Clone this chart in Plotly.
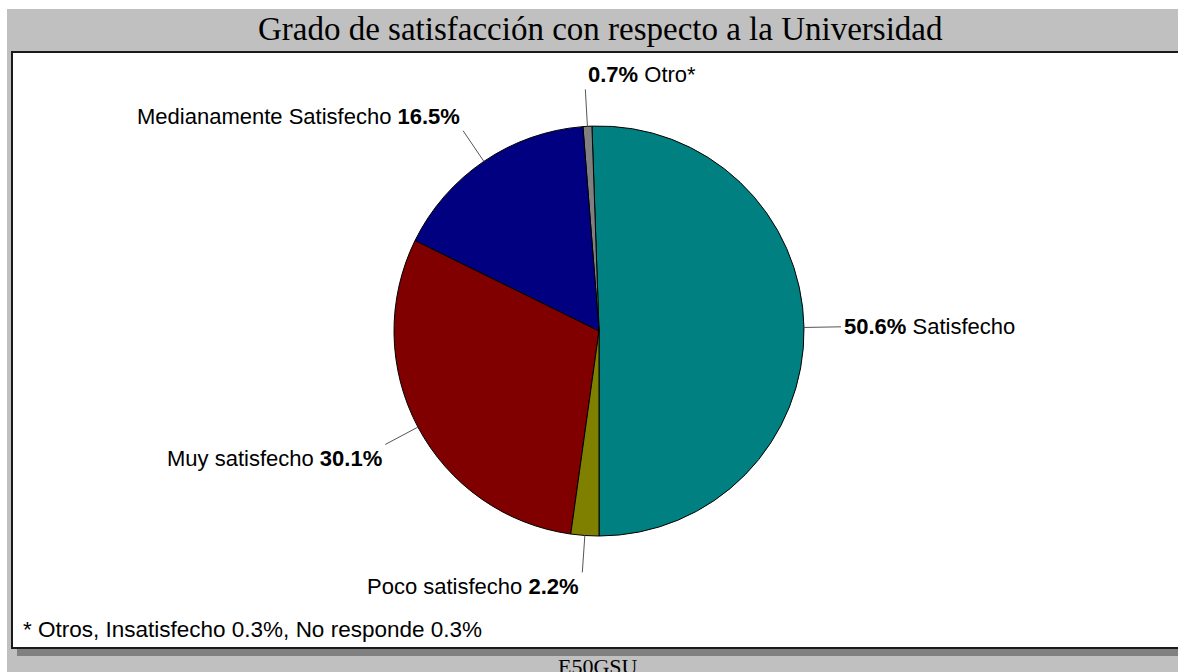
import math
import plotly.graph_objects as go

# ---- data ----
categories = ["Satisfecho", "Otro*", "Medianamente Satisfecho", "Muy satisfecho", "Poco satisfecho"]
values = [50.6, 0.7, 16.5, 30.1, 2.2]
colors = ["#008080", "#808080", "#000080", "#800000", "#808000"]
title_text = "Grado de satisfacción con respecto a la Universidad"
footnote_text = "* Otros, Insatisfecho 0.3%, No responde 0.3%"
code_text = "E50GSU"

# ---- geometry (page pixels) ----
W, H = 1178, 672
OFF = 0
CX, CY, R = 599, 331, 205
LEAD = 37


def px(x):
    return (x - OFF) / W


def py(y):
    return 1 - (y - OFF) / H


total = sum(values)
first_span = values[0] / total * 360.0

fig = go.Figure()
fig.add_trace(go.Pie(
    labels=categories, values=values, sort=False,
    direction="counterclockwise", rotation=180 - first_span,
    marker=dict(colors=colors, line=dict(color="#000000", width=1)),
    textinfo="none", hoverinfo="label+percent", showlegend=False,
    domain=dict(x=[px(CX - R), px(CX + R)], y=[py(CY + R), py(CY - R)]),
))

shapes = [
    # gray background
    dict(type="rect", xref="paper", yref="paper", x0=px(7), x1=1.02, y0=-0.05, y1=py(9),
         fillcolor="#C0C0C0", line=dict(width=0), layer="below"),
    # shadow
    dict(type="rect", xref="paper", yref="paper", x0=px(17), x1=1.02, y0=py(656), y1=py(57),
         fillcolor="#808080", line=dict(width=0), layer="below"),
    # white panel
    dict(type="rect", xref="paper", yref="paper", x0=px(12), x1=1.03, y0=py(648), y1=py(52),
         fillcolor="#FFFFFF", line=dict(color="#1a1a1a", width=2), layer="below"),
]

annotations = [
    dict(text=title_text, x=px(600), y=py(29), xref="paper", yref="paper",
         showarrow=False, xanchor="center", yanchor="middle",
         font=dict(family="Liberation Serif, Times New Roman, serif", size=33, color="#000000")),
    dict(text=footnote_text, x=px(21), y=py(629), xref="paper", yref="paper",
         showarrow=False, xanchor="left", yanchor="middle",
         font=dict(family="Liberation Sans, Arial, sans-serif", size=22.5, color="#000000")),
    dict(text=code_text, x=px(598), y=py(652), xref="paper", yref="paper",
         showarrow=False, xanchor="center", yanchor="top",
         font=dict(family="Liberation Serif, Times New Roman, serif", size=22, color="#000000")),
]

# Satisfecho occupies [180 - span, 180] clockwise from top; others follow counterclockwise
angle = 180.0
for name, v in zip(categories, values):
    span = v / total * 360.0
    mid = angle - span / 2
    angle -= span
    s, c = math.sin(math.radians(mid)), math.cos(math.radians(mid))
    x0, y0 = CX + R * s, CY - R * c
    x1, y1 = CX + (R + LEAD) * s, CY - (R + LEAD) * c
    shapes.append(dict(type="line", xref="paper", yref="paper",
                       x0=px(x0), y0=py(y0), x1=px(x1), y1=py(y1),
                       line=dict(color="#555555", width=1)))
    if abs(s) < 0.3:
        xa = "left" if c > 0 else "right"
    else:
        xa = "left" if s > 0 else "right"
    if abs(c) < 0.3:
        ya = "middle"
    else:
        ya = "bottom" if c > 0 else "top"
    pct = f"<b>{v:.1f}%</b>"
    txt = f"{pct} {name}" if xa == "left" else f"{name} {pct}"
    annotations.append(dict(text=txt, x=px(x1 + (1 if xa == "left" else -1)), y=py(y1),
                            xref="paper", yref="paper", showarrow=False,
                            xanchor=xa, yanchor=ya,
                            font=dict(family="Liberation Sans, Arial, sans-serif", size=22,
                                      color="#000000")))

fig.update_layout(
    width=W, height=H,
    margin=dict(l=0, r=0, t=0, b=0),
    paper_bgcolor="#FFFFFF", plot_bgcolor="#FFFFFF",
    shapes=shapes, annotations=annotations,
)

fig.write_html(
    "out.html",
    config={"displayModeBar": False},
    post_script=("document.body.style.margin='0';"
                 "document.documentElement.style.overflow='hidden';"
                 "document.body.style.overflow='hidden';"),
)
